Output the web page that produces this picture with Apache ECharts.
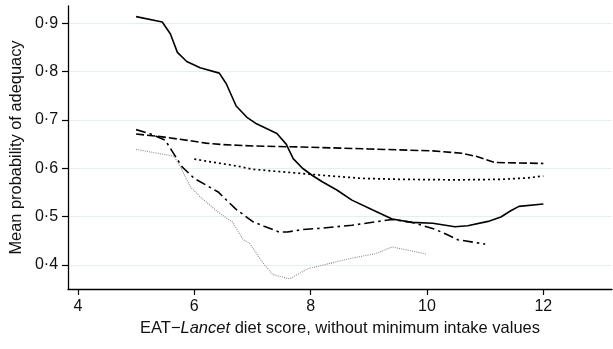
<!DOCTYPE html>
<html>
<head>
<meta charset="utf-8">
<script src="https://cdn.jsdelivr.net/npm/echarts@6/dist/echarts.min.js"></script>
<style>html,body{margin:0;padding:0;background:#fff}#c{width:613px;height:349px}</style>
</head>
<body>
<div id="c"></div>
<script>
// Series: [diet score, mean probability of adequacy]
const solidSeries = [[5.0,0.914],[5.45,0.903],[5.59,0.878],[5.71,0.840],[5.87,0.821],[6.1,0.808],[6.43,0.797],[6.55,0.775],[6.72,0.729],[6.9,0.706],[7.07,0.692],[7.42,0.672],[7.58,0.650],[7.7,0.620],[7.86,0.600],[8.03,0.585],[8.2,0.572],[8.45,0.555],[8.71,0.534],[9.06,0.514],[9.40,0.495],[9.74,0.488],[10.1,0.486],[10.48,0.479],[10.7,0.481],[11.05,0.490],[11.27,0.499],[11.44,0.512],[11.58,0.521],[12.0,0.526]];
const longDashSeries = [[5.0,0.671],[5.45,0.665],[5.93,0.657],[6.2,0.652],[6.5,0.649],[7.06,0.646],[7.86,0.644],[9.0,0.640],[10.1,0.636],[10.6,0.631],[10.87,0.624],[11.16,0.612],[12.0,0.610]];
const dottedSeries = [[6.0,0.619],[6.4,0.611],[6.72,0.605],[7.0,0.598],[7.57,0.592],[8.15,0.586],[8.88,0.579],[9.57,0.577],[10.5,0.576],[11.27,0.577],[11.73,0.580],[12.0,0.584]];
const dashDotSeries = [[5.0,0.680],[5.25,0.671],[5.5,0.658],[5.79,0.603],[6.0,0.579],[6.41,0.551],[6.58,0.531],[6.72,0.515],[7.0,0.490],[7.2,0.480],[7.46,0.468],[7.6,0.468],[7.86,0.473],[8.2,0.476],[8.71,0.482],[9.4,0.494],[9.74,0.488],[10.13,0.474],[10.36,0.462],[10.53,0.452],[11.0,0.443]];
const grayDotSeries = [[5.0,0.639],[5.65,0.625],[5.76,0.603],[5.93,0.562],[6.1,0.541],[6.4,0.510],[6.66,0.488],[6.84,0.452],[6.95,0.445],[7.18,0.404],[7.35,0.380],[7.64,0.371],[7.95,0.392],[8.71,0.414],[9.11,0.423],[9.4,0.437],[9.57,0.433],[10.0,0.422]];
const xTicks = [4, 6, 8, 10, 12];
const yTicks = [0.4, 0.5, 0.6, 0.7, 0.8, 0.9];
const xTitle = 'EAT\u2212{i|Lancet} diet score, without minimum intake values';
const yTitle = 'Mean probability of adequacy';

const FONT = '"Liberation Sans", Arial, Helvetica, sans-serif';
const chart = echarts.init(document.getElementById('c'), null, {renderer: 'canvas'});

function mkLine(name, data, color, width, type) {
  return {
    name: name, type: 'line', data: data, showSymbol: false, symbol: 'none',
    smooth: false, z: 3, silent: true, animation: false,
    lineStyle: {color: color, width: width, type: type, cap: 'butt'}
  };
}

chart.setOption({
  animation: false,
  backgroundColor: '#fff',
  grid: {left: 64, right: 1, top: 6, bottom: 60, containLabel: false},
  xAxis: {
    type: 'value', min: 3.83, max: 13.18,
    name: xTitle, nameLocation: 'middle', nameGap: 28,
    nameTextStyle: {fontFamily: FONT, fontSize: 16.5, color: '#111',
      rich: {i: {fontStyle: 'italic', fontFamily: FONT, fontSize: 16.5, color: '#111'}}},
    axisLine: {show: true, onZero: false, lineStyle: {color: '#000', width: 1.3}},
    axisTick: {show: true, length: 6, customValues: xTicks, lineStyle: {color: '#000', width: 1.2}},
    axisLabel: {customValues: xTicks, fontFamily: FONT, fontSize: 16, color: '#111', margin: 10},
    splitLine: {show: false}
  },
  yAxis: {
    type: 'value', min: 0.35, max: 0.936,
    name: yTitle, nameLocation: 'middle', nameGap: 43, nameRotate: 90,
    nameTextStyle: {fontFamily: FONT, fontSize: 16.4, color: '#111'},
    axisLine: {show: true, onZero: false, lineStyle: {color: '#000', width: 1.3}},
    axisTick: {show: true, length: 6, customValues: yTicks, lineStyle: {color: '#000', width: 1.2}},
    axisLabel: {customValues: yTicks, fontFamily: FONT, fontSize: 16, color: '#111', margin: 10,
      formatter: function (v) { return v.toFixed(1).replace('.', '\u00b7'); }},
    splitLine: {show: true, lineStyle: {color: '#e6eef0', width: 1.2}}
  },
  series: [
    mkLine('solid', solidSeries, '#000', 1.6, 'solid'),
    mkLine('longdash', longDashSeries, '#000', 1.6, [8, 3]),
    mkLine('dotted', dottedSeries, '#000', 1.7, [2, 3]),
    mkLine('dashdot', dashDotSeries, '#000', 1.6, [10, 4, 2.5, 4]),
    mkLine('graydot', grayDotSeries, '#8a8a8a', 1.1, [1, 1.2])
  ]
});
</script>
</body>
</html>
